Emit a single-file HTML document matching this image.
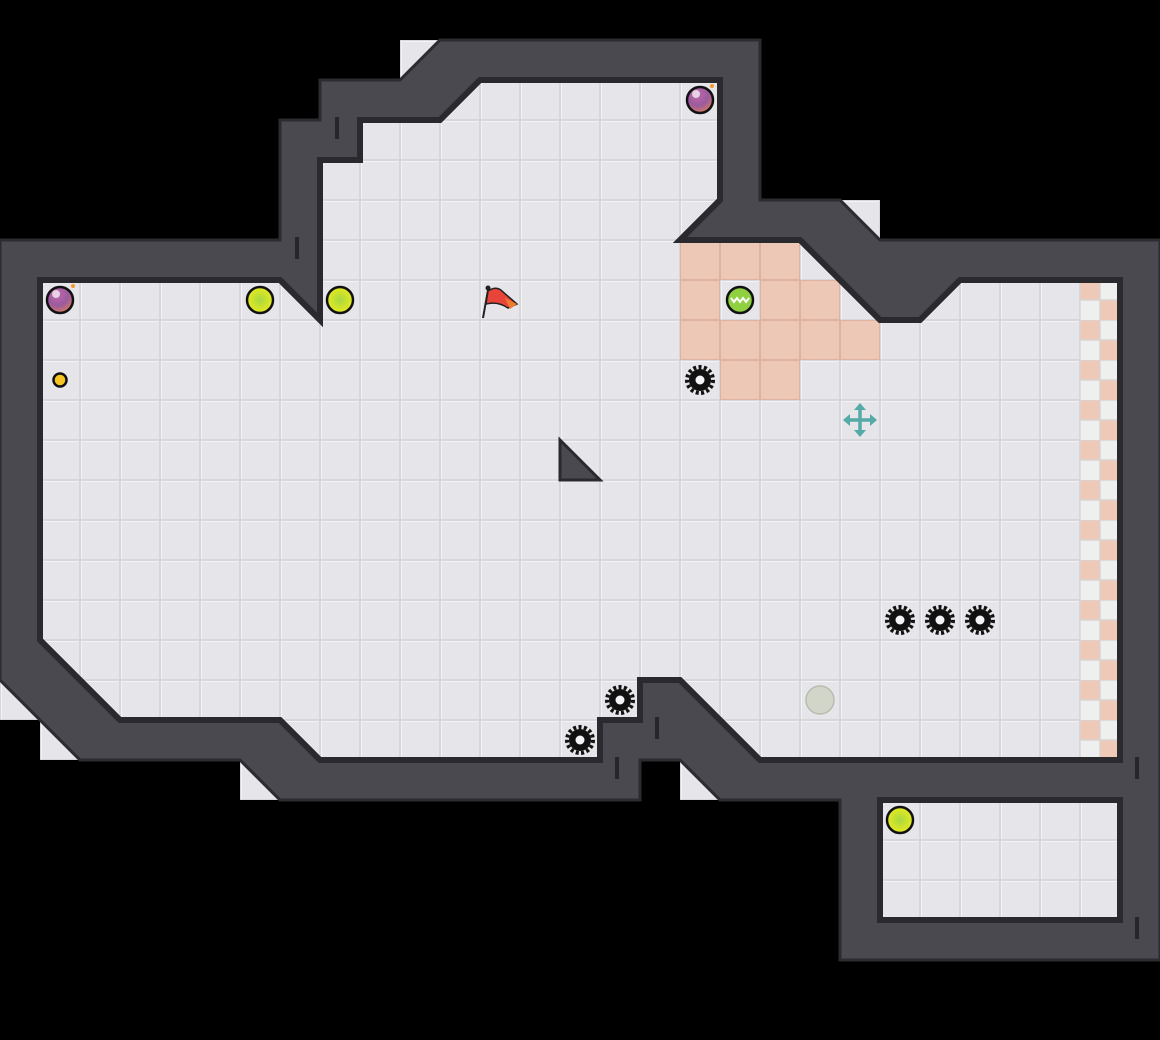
<!DOCTYPE html>
<html><head><meta charset="utf-8"><style>html,body{margin:0;padding:0;background:#000}svg{display:block}</style></head>
<body>
<svg width="1160" height="1040" viewBox="0 0 1160 1040" xmlns="http://www.w3.org/2000/svg">
<defs>
<pattern id="tile" width="40" height="40" patternUnits="userSpaceOnUse">
<rect width="40" height="40" fill="#d6d6db"/>
<rect x="1" y="1" width="38" height="38" fill="#f4f4f6"/>
<rect x="2" y="2" width="37" height="37" fill="#e6e6ea"/>
</pattern>
<pattern id="chk" width="40" height="40" patternUnits="userSpaceOnUse">
<rect width="40" height="40" fill="#eef0f0"/>
<rect x="0" y="0" width="20" height="20" fill="#efc9b8"/>
<rect x="20" y="20" width="20" height="20" fill="#efc9b8"/>
<path d="M0 0H40M0 20H40M0 0V40M20 0V40" stroke="#d9d4d2" stroke-width="1.5"/>
</pattern>
<radialGradient id="purp" cx="0.4" cy="0.3" r="0.7"><stop offset="0" stop-color="#c06aa8"/><stop offset="0.6" stop-color="#9a5aa0"/><stop offset="1" stop-color="#d07a60"/></radialGradient>
<radialGradient id="yel" cx="0.5" cy="0.5" r="0.5"><stop offset="0" stop-color="#a8d840"/><stop offset="1" stop-color="#e6ea20"/></radialGradient>
<g id="gear"><circle r="11" fill="#111"/><circle r="13" fill="none" stroke="#111" stroke-width="4" stroke-dasharray="3 2.4"/><circle r="4.5" fill="#f4f4f6"/></g>
<g id="sal"><rect width="40" height="40" fill="#dfb3a0"/><rect x="1" y="1" width="38" height="38" fill="#eec8b6"/></g>
</defs>
<path d="M0,240H280V120H320V80H400L440,40H760V200H840L880,240H1160V960H840V800H720L680,760H640V800H280L240,760H80L0,680Z" fill="url(#tile)"/>
<path d="M400,40H440L400,80Z M840,200H880V240Z M0,680L40,720H0Z M40,720L80,760H40Z M240,760L280,800H240Z M680,760L720,800H680Z" fill="url(#tile)"/>
<use href="#sal" x="680" y="240"/><use href="#sal" x="720" y="240"/><use href="#sal" x="760" y="240"/>
<use href="#sal" x="680" y="280"/><use href="#sal" x="760" y="280"/><use href="#sal" x="800" y="280"/>
<use href="#sal" x="680" y="320"/><use href="#sal" x="720" y="320"/><use href="#sal" x="760" y="320"/><use href="#sal" x="800" y="320"/><use href="#sal" x="840" y="320"/>
<use href="#sal" x="720" y="360"/><use href="#sal" x="760" y="360"/>
<rect x="1080" y="280" width="40" height="480" fill="url(#chk)"/>
<path fill-rule="evenodd" fill="#4a494f" stroke="#2c2b30" stroke-width="3" d="M0,240H280V120H320V80H400L440,40H760V200H840L880,240H1160V960H840V800H720L680,760H640V800H280L240,760H80L0,680Z
M40,280H280L320,320V160H360V120H440L480,80H720V200L680,240H800L880,320H920L960,280H1120V760H760L680,680H640V720H600V760H320L280,720H120L40,640Z
M880,800H1120V920H880Z"/>
<path fill="none" stroke="#2a292d" stroke-width="6" d="M40,280H280L320,320V160H360V120H440L480,80H720V200L680,240H800L880,320H920L960,280H1120V760H760L680,680H640V720H600V760H320L280,720H120L40,640Z M880,800H1120V920H880Z"/>
<g stroke="#26252a" stroke-width="4">
<path d="M337,117V139M297,237V259M657,717V739M617,757V779M1137,757V779M1137,917V939"/>
</g>
<path d="M560,440L600,480H560Z" fill="#4a494f" stroke="#2a292d" stroke-width="3"/>
<g stroke="#111" stroke-width="2.5">
<circle cx="700" cy="100" r="13" fill="url(#purp)"/>
<circle cx="60" cy="300" r="13" fill="url(#purp)"/>
</g>
<circle cx="696" cy="94" r="4" fill="#fff" opacity="0.7"/><circle cx="56" cy="294" r="4" fill="#fff" opacity="0.7"/>
<circle cx="712" cy="86" r="2" fill="#f39a30"/><circle cx="73" cy="286" r="2" fill="#f39a30"/>
<g stroke="#111" stroke-width="2.5" fill="url(#yel)">
<circle cx="260" cy="300" r="13"/><circle cx="340" cy="300" r="13"/><circle cx="900" cy="820" r="13"/>
</g>
<circle cx="60" cy="380" r="6.5" fill="#f7c520" stroke="#111" stroke-width="2.5"/>
<circle cx="740" cy="300" r="13" fill="#8fd040" stroke="#111" stroke-width="2.5"/>
<path d="M731,298l3,4 3,-4 3,4 3,-4 3,4 3,-4" stroke="#fff" stroke-width="2" fill="none"/>
<path d="M483,318L488,290" stroke="#222" stroke-width="2"/>
<circle cx="488" cy="288" r="2.5" fill="#222"/>
<path d="M488,291Q497,285 503,292L517,304L508,308Q498,301 486,304Z" fill="#e8443a" stroke="#222" stroke-width="1.5"/>
<path d="M505,298L517,304L510,309Z" fill="#f07a30"/>
<use href="#gear" x="700" y="380"/><use href="#gear" x="900" y="620"/><use href="#gear" x="940" y="620"/><use href="#gear" x="980" y="620"/><use href="#gear" x="620" y="700"/><use href="#gear" x="580" y="740"/>
<path d="M860,407V433M847,420H873" fill="none" stroke="#55aaa8" stroke-width="3.5"/>
<g fill="#55aaa8"><path d="M860,403l-6,7h12Z M860,437l-6,-7h12Z M843,420l7,-6v12Z M877,420l-7,-6v12Z"/></g>
<circle cx="820" cy="700" r="14" fill="#d2d6c8" stroke="#b8bcae" stroke-width="1.5"/>
</svg>
</body></html>
